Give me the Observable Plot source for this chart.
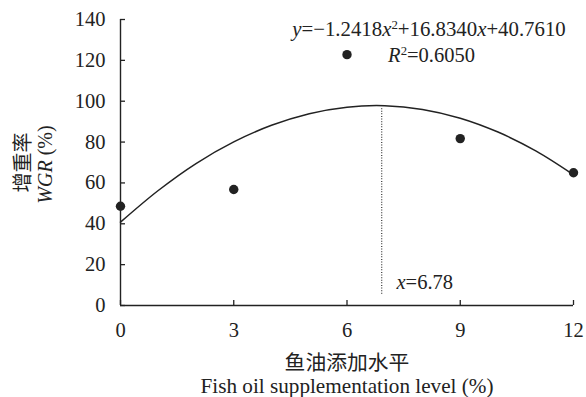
<!DOCTYPE html>
<html>
<head>
<meta charset="utf-8">
<script src="https://cdn.jsdelivr.net/npm/d3@7"></script>
<script src="https://cdn.jsdelivr.net/npm/@observablehq/plot@0.6"></script>
<style>
  html, body { margin: 0; padding: 0; background: #ffffff; }
</style>
</head>
<body>
<div id="chart"></div>
<script>
// ---- data ----
const levels = [0, 3, 6, 9, 12];                 // fish oil level (%)
const wgr = [48.6, 56.8, 122.8, 81.7, 65.0];     // WGR (%)
const fitX = [0, 1, 2, 3, 4, 5, 6, 7, 8, 9, 10, 11, 12];
const fitY = [40.8, 56.3, 69.5, 80.1, 88.2, 93.9, 97.1, 97.8, 96.0, 91.7, 84.9, 75.7, 64.0];
const xTicks = [0, 3, 6, 9, 12];
const yTicks = [0, 20, 40, 60, 80, 100, 120, 140];
const vertexX = [6.92];
const vertexYRange = [5.5, 97];
const equationLabel = ["y=−1.2418x2+16.8340x+40.7610"];
const r2Label = ["R2=0.6050"];
const vertexLabel = ["x=6.78"];
const xTitleZh = ["鱼油添加水平"];
const xTitleEn = ["Fish oil supplementation level (%)"];
const yTitleZh = ["增重率"];
const yTitleEn = ["WGR (%)"];

const points = levels.map((x, i) => ({x, y: wgr[i]}));
const fit = fitX.map((x, i) => ({x, y: fitY[i]}));
const ink = "#222";
const serif = "'Liberation Serif', 'Times New Roman', serif";
const cjk = "'Noto Sans CJK SC', sans-serif";

const chart = Plot.plot({
  width: 586,
  height: 397,
  marginLeft: 120,
  marginRight: 13,
  marginTop: 19,
  marginBottom: 92,
  style: {fontFamily: serif, fontSize: "20px", color: ink, background: "#ffffff"},
  x: {domain: [0, 12]},
  y: {domain: [0, 140]},
  marks: [
    Plot.axisX(xTicks, {tickSize: -5, tickPadding: 21.5, label: null, stroke: ink, strokeWidth: 1.3, fill: ink, fontFamily: serif, fontSize: 20.5, fontVariant: "normal"}),
    Plot.axisY(yTicks, {tickSize: -5, tickPadding: 20, label: null, stroke: ink, strokeWidth: 1.3, fill: ink, fontFamily: serif, fontSize: 20.5, fontVariant: "normal"}),
    Plot.ruleY([0], {stroke: ink, strokeWidth: 1.4}),
    Plot.ruleX([0], {stroke: ink, strokeWidth: 1.4}),
    Plot.ruleX(vertexX, {y1: vertexYRange[0], y2: vertexYRange[1], stroke: ink, strokeWidth: 1.1, strokeDasharray: "1,1.6"}),
    Plot.line(fit, {x: "x", y: "y", curve: "catmull-rom", stroke: ink, strokeWidth: 1.5}),
    Plot.dot(points, {x: "x", y: "y", r: 4.7, fill: ink, stroke: "none"}),
    Plot.text(equationLabel, {frameAnchor: "top", textAnchor: "middle", lineAnchor: "middle", dx: 82, dy: 9.7, fill: ink, fontSize: 20.8, fontFamily: serif}),
    Plot.text(r2Label, {frameAnchor: "top", textAnchor: "middle", lineAnchor: "middle", dx: 84.5, dy: 35.7, fill: ink, fontSize: 20.5, fontFamily: serif}),
    Plot.text(vertexLabel, {frameAnchor: "bottom", textAnchor: "start", lineAnchor: "middle", dx: 49.5, dy: -23, fill: ink, fontSize: 20.5, fontFamily: serif}),
    Plot.text(xTitleZh, {frameAnchor: "bottom", textAnchor: "middle", lineAnchor: "middle", dy: 57.7, fill: ink, fontSize: 20.8, fontFamily: cjk}),
    Plot.text(xTitleEn, {frameAnchor: "bottom", textAnchor: "middle", lineAnchor: "middle", dy: 80.7, fill: ink, fontSize: 21.2, fontFamily: serif}),
    Plot.text(yTitleZh, {frameAnchor: "middle", textAnchor: "middle", lineAnchor: "middle", rotate: -90, dx: -323.5, dy: 0, fill: ink, fontSize: 20, fontFamily: cjk}),
    Plot.text(yTitleEn, {frameAnchor: "middle", textAnchor: "middle", lineAnchor: "middle", rotate: -90, dx: -301.5, dy: 2, fill: ink, fontSize: 20, fontFamily: serif})
  ]
});

document.getElementById("chart").appendChild(chart);

// rich text: italics and superscripts
function richify(target, segs) {
  d3.select(chart).selectAll("text").each(function() {
    if (this.textContent !== target) return;
    const t = d3.select(this);
    t.text(null);
    let raised = false;
    segs.forEach(s => {
      const sp = t.append("tspan").text(s.t);
      if (s.i) sp.attr("font-style", "italic");
      if (s.sup) { sp.attr("font-size", "0.62em").attr("dy", "-0.55em"); raised = true; }
      else if (raised) { sp.attr("dy", "0.341em"); raised = false; }
    });
  });
}
richify(equationLabel[0], [
  {t: "y", i: true}, {t: "=−1.2418"}, {t: "x", i: true}, {t: "2", sup: true},
  {t: "+16.8340"}, {t: "x", i: true}, {t: "+40.7610"}
]);
richify(r2Label[0], [{t: "R", i: true}, {t: "2", sup: true}, {t: "=0.6050"}]);
richify(vertexLabel[0], [{t: "x", i: true}, {t: "=6.78"}]);
richify(yTitleEn[0], [{t: "WGR", i: true}, {t: " (%)"}]);
</script>
</body>
</html>
